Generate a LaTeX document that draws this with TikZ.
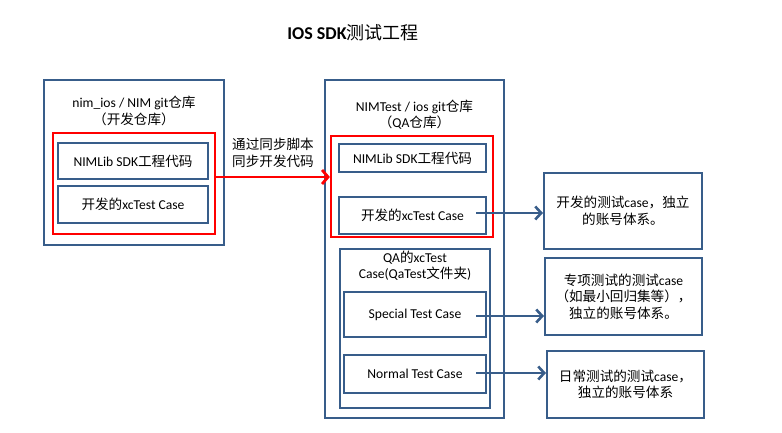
\documentclass[tikz,border=0pt]{standalone}
\usepackage{fontspec}
\setmainfont{Carlito}
\newfontfamily\zh{Noto Sans CJK SC}
\usetikzlibrary{arrows.meta}
\definecolor{bl}{HTML}{385D8A}
\definecolor{rd}{HTML}{FF0000}
\begin{document}
\begin{tikzpicture}[x=1pt,y=-1pt,
  bbox/.style={draw=bl,line width=2pt,inner sep=0pt,align=center,font=\fontsize{13.6}{16.5}\selectfont},
  rbox/.style={draw=rd,line width=2.2pt,inner sep=0pt},
  lbl/.style={inner sep=0pt,align=center,font=\fontsize{13.6}{16.5}\selectfont},
  barrow/.style={draw=bl,line width=2.6pt,-{Straight Barb[length=6pt,width=13pt,line width=2.6pt]}},
  rarrow/.style={draw=rd,line width=2.8pt,-{Straight Barb[length=6pt,width=14pt,line width=2.8pt]}}]
\useasboundingbox (0,0) rectangle (782,433);
% title
\node[lbl,font=\fontsize{18}{21}\selectfont] (title) at (353,33) {\bfseries IOS SDK{\zh\mdseries 测试工程}};
% left repository
\node[bbox,minimum width=180pt,minimum height=165pt] (Lout) at (134,162.5) {};
\node[lbl] (Llab) at (134,111) {nim\_ios / NIM git{\zh 仓库}\\{\zh （开发仓库）}};
\node[rbox,minimum width=162pt,minimum height=101pt] (Lred) at (134,183.5) {};
\node[bbox,minimum width=150pt,minimum height=36pt] (Lin1) at (133,161) {NIMLib SDK{\zh 工程代码}};
\node[bbox,minimum width=150pt,minimum height=37pt] (Lin2) at (133,204.5) {{\zh 开发的}xcTest Case};
% middle repository
\node[bbox,minimum width=179pt,minimum height=338pt] (Mout) at (414.5,249) {};
\node[lbl] (Mlab) at (414.5,114.5) {NIMTest / ios git{\zh 仓库}\\{\zh （}QA{\zh 仓库）}};
\node[rbox,minimum width=162pt,minimum height=101pt] (Mred) at (412,186.5) {};
\node[bbox,minimum width=147pt,minimum height=28pt] (Min1) at (412.5,158) {NIMLib SDK{\zh 工程代码}};
\node[bbox,minimum width=147pt,minimum height=37pt] (Min2) at (412.5,215.5) {{\zh 开发的}xcTest Case};
\node[bbox,minimum width=150pt,minimum height=159pt] (QA) at (415,328.5) {};
\node[lbl] (QAlab) at (415,265.5) {QA{\zh 的}xcTest\\Case(QaTest{\zh 文件夹})};
\node[bbox,minimum width=142pt,minimum height=45pt] (Spec) at (415,314.5) {Special Test Case};
\node[bbox,minimum width=142pt,minimum height=38pt] (Norm) at (415,374) {Normal Test Case};
% right notes
\node[bbox,minimum width=158pt,minimum height=76pt] (R1) at (623,211) {{\zh 开发的测试}case{\zh ，独立}\\{\zh 的账号体系。}};
\node[bbox,minimum width=157pt,minimum height=77pt] (R2) at (623.5,296.5) {{\zh 专项测试的测试}case\\{\zh （如最小回归集等），}\\{\zh 独立的账号体系。}};
\node[bbox,minimum width=157pt,minimum height=67pt] (R3) at (625.5,384.5) {{\zh 日常测试的测试}case{\zh ，}\\{\zh 独立的账号体系}};
% sync arrow
\coordinate (ay) at (0,177);
\node[lbl] (sync) at (273,153) {{\zh 通过同步脚本}\\{\zh 同步开发代码}};
\draw[rarrow] (Lred.east |- ay) -- (Mred.west |- ay);
% blue arrows
\coordinate (s1) at (476,213);
\coordinate (s2) at (476,316);
\coordinate (s3) at (476,373);
\draw[barrow] (s1) -- (R1.west |- s1);
\draw[barrow] (s2) -- (R2.west |- s2);
\draw[barrow] (s3) -- (R3.west |- s3);
\end{tikzpicture}
\end{document}
